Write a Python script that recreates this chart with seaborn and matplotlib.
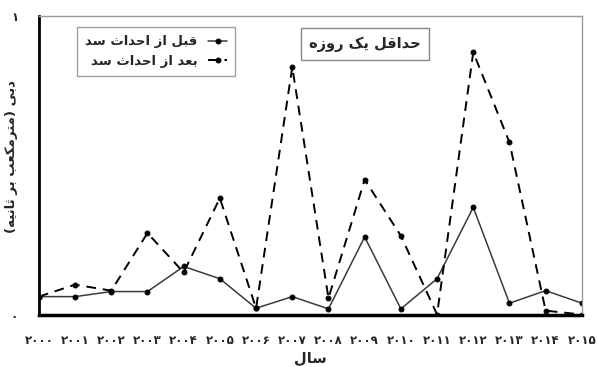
import matplotlib
matplotlib.use("Agg")
import matplotlib.pyplot as plt
import seaborn as sns
import pandas as pd

# ---------------- data ----------------
years = list(range(2000, 2016))
year_labels = ["۲۰۰۰", "۲۰۰۱", "۲۰۰۲", "۲۰۰۳", "۲۰۰۴", "۲۰۰۵", "۲۰۰۶", "۲۰۰۷",
               "۲۰۰۸", "۲۰۰۹", "۲۰۱۰", "۲۰۱۱", "۲۰۱۲", "۲۰۱۳", "۲۰۱۴", "۲۰۱۵"]
before_dam = [0.06, 0.06, 0.077, 0.077, 0.161, 0.12, 0.021, 0.06,
              0.019, 0.26, 0.019, 0.12, 0.359, 0.038, 0.08, 0.038]
after_dam = [0.06, 0.10, 0.08, 0.273, 0.141, 0.39, 0.021, 0.829,
             0.055, 0.452, 0.264, 0.0, 0.879, 0.577, 0.013, 0.0]
y_ticks = [0, 1]
y_tick_labels = ["۰", "۱"]
label_before = "قبل از احداث سد"
label_after = "بعد از احداث سد"
title_text = "حداقل یک روزه"
x_label = "سال"
y_label = "دبی (مترمکعب بر ثانیه)"

# ---------------- simple Arabic/Persian shaping ----------------
FORMS = {
    'ا': ('\uFE8D', '\uFE8E', None, None),
    'ب': ('\uFE8F', '\uFE90', '\uFE91', '\uFE92'),
    'ت': ('\uFE95', '\uFE96', '\uFE97', '\uFE98'),
    'ث': ('\uFE99', '\uFE9A', '\uFE9B', '\uFE9C'),
    'ح': ('\uFEA1', '\uFEA2', '\uFEA3', '\uFEA4'),
    'د': ('\uFEA9', '\uFEAA', None, None),
    'ر': ('\uFEAD', '\uFEAE', None, None),
    'ز': ('\uFEAF', '\uFEB0', None, None),
    'س': ('\uFEB1', '\uFEB2', '\uFEB3', '\uFEB4'),
    'ع': ('\uFEC9', '\uFECA', '\uFECB', '\uFECC'),
    'ق': ('\uFED5', '\uFED6', '\uFED7', '\uFED8'),
    'ل': ('\uFEDD', '\uFEDE', '\uFEDF', '\uFEE0'),
    'م': ('\uFEE1', '\uFEE2', '\uFEE3', '\uFEE4'),
    'ن': ('\uFEE5', '\uFEE6', '\uFEE7', '\uFEE8'),
    'ه': ('\uFEE9', '\uFEEA', '\uFEEB', '\uFEEC'),
    'و': ('\uFEED', '\uFEEE', None, None),
    'ی': ('\uFBFC', '\uFBFD', '\uFBFE', '\uFBFF'),
    'ک': ('\uFB8E', '\uFB8F', '\uFB90', '\uFB91'),
}


def shape(s):
    out = []
    for i, c in enumerate(s):
        if c not in FORMS:
            out.append(c)
            continue
        f = FORMS[c]
        prev = s[i - 1] if i > 0 else None
        nxt = s[i + 1] if i + 1 < len(s) else None
        jp = prev in FORMS and FORMS[prev][2] is not None
        jn = f[2] is not None and nxt in FORMS
        if jp and jn:
            g = f[3]
        elif jp:
            g = f[1]
        elif jn:
            g = f[2]
        else:
            g = f[0]
        out.append(g)
    vis = ''.join(reversed(out))
    return vis.translate(str.maketrans('()', ')('))


# ---------------- plot ----------------
sns.set_theme(style="white")
plt.rcParams['font.family'] = ['DejaVu Sans']

df = pd.DataFrame({"year": years, "before": before_dam, "after": after_dam})

fig = plt.figure(figsize=(5.98, 3.67), dpi=100)
ax = fig.add_axes([0.065, 0.143, 0.908, 0.813])

sns.lineplot(data=df, x="year", y="before", ax=ax, color="#3a3a3a", lw=1.1,
             marker="o", markersize=3.5, markerfacecolor="black",
             markeredgecolor="black", label=shape(label_before))
sns.lineplot(data=df, x="year", y="after", ax=ax, color="black", lw=1.4,
             marker="o", markersize=3.5, markerfacecolor="black",
             markeredgecolor="black", label=shape(label_after))
ax.lines[1].set_linestyle((0, (5, 3.5)))

ax.set_xlim(2000, 2015)
ax.set_ylim(0, 1)
ax.set_xticks(years)
ax.set_xticklabels(year_labels, fontsize=8.5, fontweight="bold")
ax.set_yticks(y_ticks)
ax.set_yticklabels(y_tick_labels, fontsize=8.5, fontweight="bold")
ax.tick_params(axis="x", direction="inout", length=10, width=1.5, color="black", pad=9)
ax.tick_params(axis="y", direction="inout", length=10, width=1.5, color="black", pad=10)

for side in ["left", "bottom"]:
    ax.spines[side].set_color("black")
ax.spines["left"].set_linewidth(2.0)
ax.spines["bottom"].set_linewidth(2.5)
for side in ["top", "right"]:
    ax.spines[side].set_color("#999999")
    ax.spines[side].set_linewidth(1.0)

ax.set_xlabel(shape(x_label), fontsize=10.5, fontweight="bold", labelpad=2)
ax.set_ylabel(shape(y_label), fontsize=9.5, fontweight="bold")
ax.yaxis.set_label_coords(-0.038, 0.53)

leg = ax.legend(loc="upper left", bbox_to_anchor=(0.058, 0.985), markerfirst=False,
                frameon=True, fancybox=False, handlelength=1.5,
                prop={"size": 9.5, "weight": "bold"}, borderpad=0.6,
                labelspacing=0.5)
leg.get_frame().set_edgecolor("#888888")
leg.get_frame().set_linewidth(1.0)

ax.text(0.600, 0.907, shape(title_text), transform=ax.transAxes, ha="center",
        va="center", fontsize=10.5, fontweight="bold",
        bbox=dict(boxstyle="square,pad=0.55", fc="white", ec="#888888", lw=1.0))

fig.savefig("out.png", dpi=100)
